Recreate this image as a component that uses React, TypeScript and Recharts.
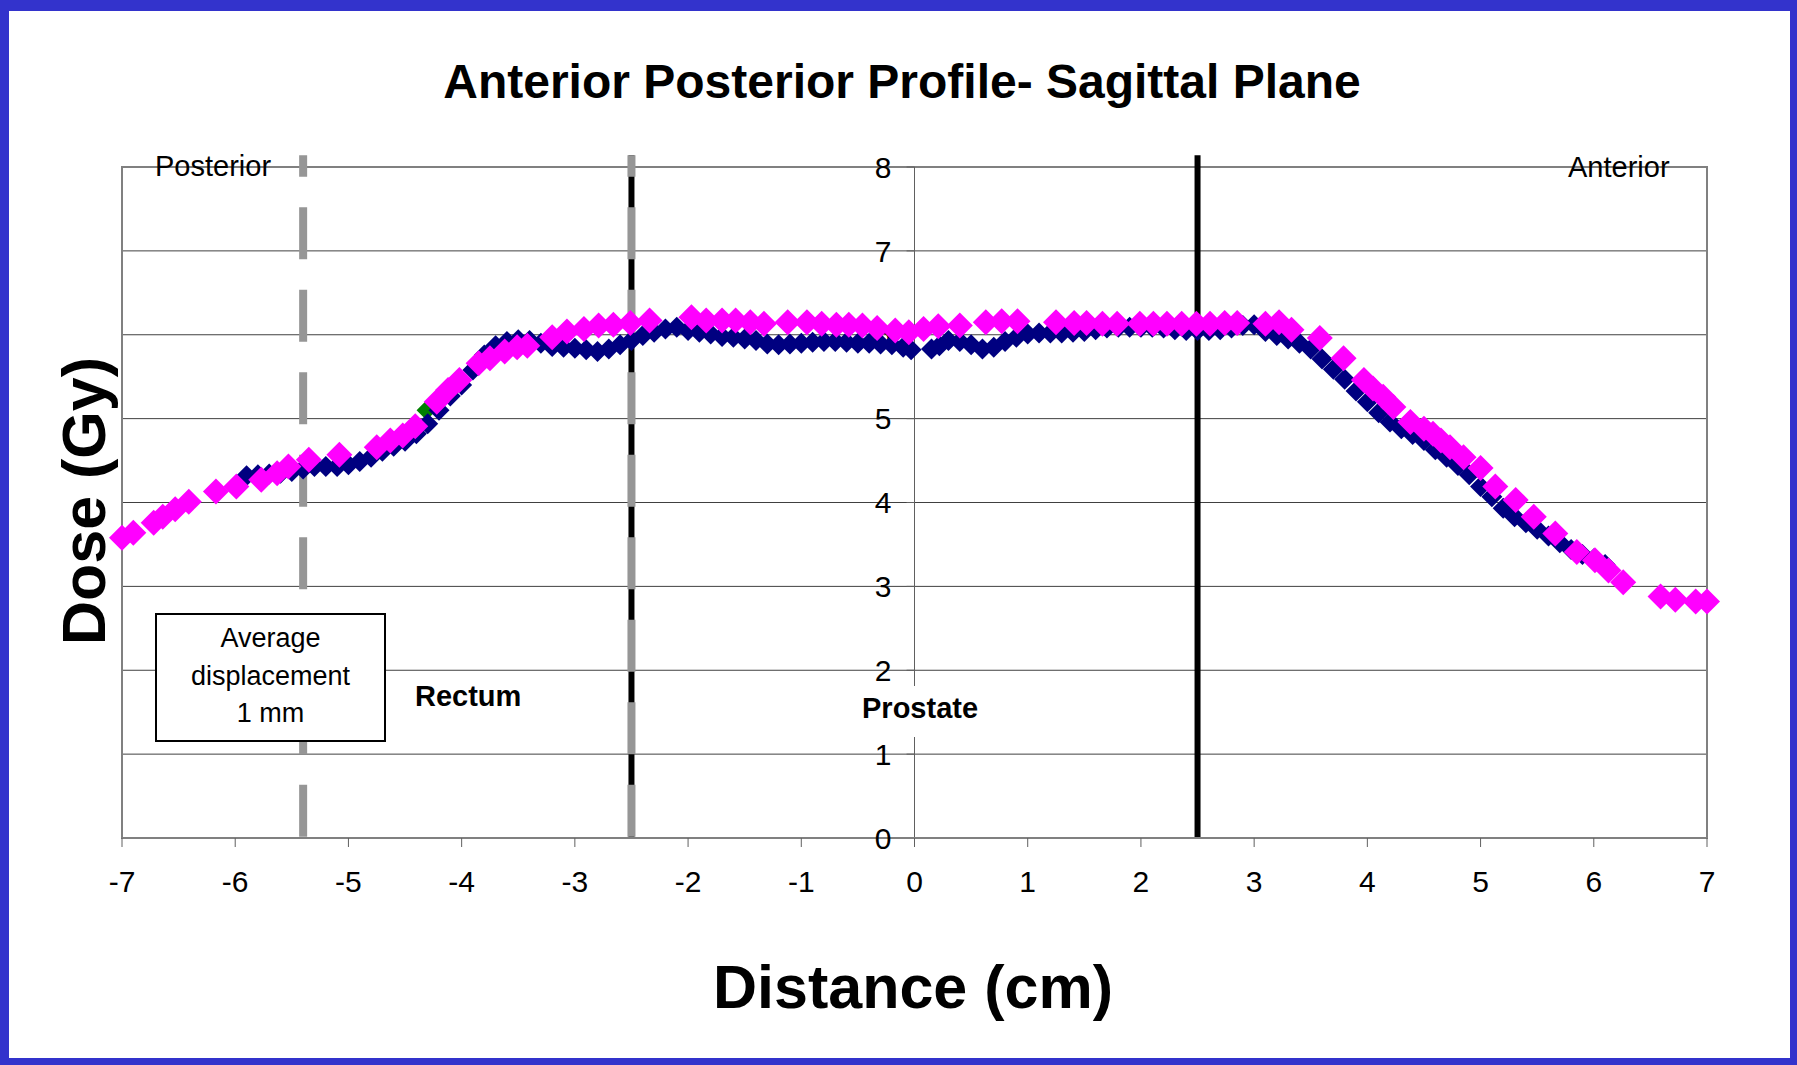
import {
  ScatterChart,
  Scatter,
  XAxis,
  YAxis,
  CartesianGrid,
  ReferenceLine,
  ReferenceDot,
  ReferenceArea,
} from "recharts";

const FONT = '"Liberation Sans", Arial, Helvetica, sans-serif';

const xTicks = [-7, -6, -5, -4, -3, -2, -1, 0, 1, 2, 3, 4, 5, 6, 7];
const yTicks = [0, 1, 2, 3, 4, 5, 6, 7, 8];

// marker lines (cm)
const avgDisplacementX = -5.4;
const rectumEdgeX = -2.5;
const prostateEdgeX = 2.5;
const lineTopY = 8.14;

// navy series: dose profile [cm, Gy]
const profileNavy: [number, number][] = [
  [-5.9, 4.32], [-5.8, 4.33], [-5.7, 4.34], [-5.6, 4.35], [-5.5, 4.37],
  [-5.4, 4.4], [-5.3, 4.43], [-5.2, 4.43], [-5.1, 4.43], [-5.0, 4.45],
  [-4.9, 4.49], [-4.8, 4.54], [-4.7, 4.61], [-4.6, 4.67], [-4.5, 4.73],
  [-4.4, 4.82], [-4.3, 4.94], [-4.2, 5.1], [-4.1, 5.27], [-4.0, 5.4],
  [-3.9, 5.58], [-3.8, 5.76], [-3.7, 5.87], [-3.6, 5.92], [-3.5, 5.94],
  [-3.4, 5.93], [-3.3, 5.9], [-3.2, 5.86], [-3.1, 5.85], [-3.0, 5.84],
  [-2.9, 5.82], [-2.8, 5.8], [-2.7, 5.83], [-2.6, 5.88], [-2.5, 5.93],
  [-2.4, 5.99], [-2.3, 6.03], [-2.2, 6.07], [-2.1, 6.09], [-2.0, 6.05],
  [-1.9, 6.03], [-1.8, 6.01], [-1.7, 5.98], [-1.6, 5.97], [-1.5, 5.95],
  [-1.4, 5.93], [-1.3, 5.89], [-1.2, 5.88], [-1.1, 5.89], [-1.0, 5.9],
  [-0.9, 5.91], [-0.8, 5.92], [-0.7, 5.92], [-0.6, 5.91], [-0.5, 5.9],
  [-0.4, 5.9], [-0.3, 5.89], [-0.2, 5.88], [-0.1, 5.85], [-0.03, 5.82],
  [0.15, 5.83], [0.22, 5.87], [0.3, 5.93], [0.4, 5.92], [0.5, 5.88],
  [0.6, 5.83], [0.7, 5.85], [0.8, 5.92], [0.9, 5.97], [1.0, 6.01],
  [1.1, 6.02], [1.2, 6.02], [1.3, 6.02], [1.4, 6.03], [1.5, 6.04],
  [1.6, 6.06], [1.7, 6.08], [1.8, 6.09], [1.9, 6.09], [2.0, 6.09],
  [2.1, 6.09], [2.2, 6.08], [2.3, 6.06], [2.4, 6.05], [2.5, 6.05],
  [2.6, 6.05], [2.7, 6.06], [2.8, 6.08], [2.9, 6.11], [3.0, 6.12],
  [3.1, 6.04], [3.2, 5.99], [3.3, 5.95], [3.4, 5.9], [3.5, 5.83],
  [3.6, 5.71], [3.7, 5.59], [3.8, 5.47], [3.9, 5.33], [4.0, 5.2],
  [4.1, 5.07], [4.2, 4.96], [4.3, 4.88], [4.4, 4.81], [4.5, 4.74],
  [4.6, 4.63], [4.7, 4.54], [4.8, 4.44], [4.9, 4.33], [5.0, 4.19],
  [5.1, 4.07], [5.2, 3.93], [5.3, 3.83], [5.4, 3.76], [5.5, 3.68],
  [5.6, 3.6], [5.7, 3.52], [5.8, 3.44], [5.9, 3.38], [6.0, 3.33],
  [6.1, 3.26],
];

// magenta series: displaced profile [cm, Gy]
const profileMagenta: [number, number][] = [
  [-7.0, 3.58], [-6.9, 3.64], [-6.72, 3.76], [-6.64, 3.83], [-6.53, 3.92],
  [-6.41, 4.01], [-6.17, 4.13], [-5.99, 4.19], [-5.77, 4.27], [-5.63, 4.35],
  [-5.53, 4.43], [-5.35, 4.51], [-5.08, 4.57], [-4.75, 4.66], [-4.63, 4.74],
  [-4.52, 4.8], [-4.41, 4.91], [-4.22, 5.2], [-4.12, 5.34], [-4.02, 5.46],
  [-3.85, 5.66], [-3.75, 5.72], [-3.62, 5.8], [-3.51, 5.85], [-3.42, 5.87],
  [-3.2, 5.97], [-3.07, 6.04], [-2.92, 6.07], [-2.79, 6.11], [-2.66, 6.12],
  [-2.51, 6.14], [-2.34, 6.17], [-1.97, 6.21], [-1.84, 6.17], [-1.7, 6.17],
  [-1.58, 6.17], [-1.45, 6.15], [-1.33, 6.13], [-1.12, 6.15], [-0.95, 6.15],
  [-0.82, 6.13], [-0.69, 6.12], [-0.58, 6.12], [-0.46, 6.11], [-0.33, 6.08],
  [-0.17, 6.05], [-0.05, 6.03], [0.08, 6.07], [0.21, 6.1], [0.4, 6.11],
  [0.63, 6.15], [0.77, 6.16], [0.91, 6.16], [1.25, 6.15], [1.41, 6.14],
  [1.52, 6.14], [1.66, 6.13], [1.79, 6.13], [1.99, 6.13], [2.11, 6.13],
  [2.23, 6.13], [2.36, 6.13], [2.49, 6.13], [2.61, 6.13], [2.74, 6.14],
  [2.85, 6.14], [3.1, 6.13], [3.22, 6.15], [3.33, 6.06], [3.58, 5.96],
  [3.79, 5.72], [3.97, 5.46], [4.05, 5.36], [4.14, 5.26], [4.23, 5.14],
  [4.38, 4.96], [4.5, 4.88], [4.58, 4.82], [4.65, 4.74], [4.73, 4.66],
  [4.85, 4.54], [5.0, 4.41], [5.13, 4.19], [5.31, 4.03], [5.47, 3.83],
  [5.66, 3.63], [5.85, 3.41], [6.01, 3.31], [6.13, 3.19], [6.26, 3.05],
  [6.59, 2.88], [6.72, 2.84], [6.9, 2.82], [7.0, 2.82],
];

// third series, only one point shows from under the others
const profileGreen: [number, number][] = [[-4.31, 5.1]];

const toRows = (pts: [number, number][]) => pts.map(([x, y]) => ({ x, y }));

const diamond = (r: number, fill: string) => (props: any) => {
  const { cx, cy } = props;
  if (cx == null || cy == null) return <g />;
  return (
    <path
      d={`M${cx},${cy - r}L${cx + r},${cy}L${cx},${cy + r}L${cx - r},${cy}Z`}
      fill={fill}
    />
  );
};

// y tick label, drawn to the left of the axis that crosses at x = 0
const yLabel = (v: number) => (props: any) => {
  const { cx, cy } = props;
  if (cx == null || cy == null) return <g />;
  return (
    <text
      x={cx - 23}
      y={cy}
      dy="0.36em"
      textAnchor="end"
      fontSize={30}
      fontFamily={FONT}
      fill="#000"
    >
      {v}
    </text>
  );
};

const text = (extra: React.CSSProperties): React.CSSProperties => ({
  position: "absolute",
  fontFamily: FONT,
  lineHeight: 1,
  whiteSpace: "nowrap",
  color: "#000",
  ...extra,
});

export default function App() {
  const dashed = { stroke: "#969696", strokeWidth: 8, strokeDasharray: "52 30.5", strokeDashoffset: 30.5 };

  return (
    <div style={{ position: "absolute", left: 0, top: 0, width: 1797, height: 1065, background: "#fff", overflow: "hidden" }}>
      <ScatterChart
        width={1797}
        height={1065}
        margin={{ top: 167, right: 90, bottom: 167, left: 122 }}
        style={{ position: "absolute", left: 0, top: 0 }}
      >
        <CartesianGrid vertical={false} stroke="#404040" strokeWidth={1} />
        <XAxis
          type="number"
          dataKey="x"
          domain={[-7, 7]}
          ticks={xTicks}
          height={60}
          tickSize={9}
          tickMargin={24}
          axisLine={{ stroke: "#808080", strokeWidth: 2 }}
          tickLine={{ stroke: "#606060" }}
          tick={{ fontSize: 30, fill: "#000", fontFamily: FONT }}
        />
        <YAxis type="number" dataKey="y" domain={[0, 8]} ticks={yTicks} hide width={0} />
        <ReferenceArea x1={-7} x2={7} y1={0} y2={8} fill="none" stroke="#808080" strokeWidth={2} />
        <ReferenceLine x={0} stroke="#606060" strokeWidth={1} />
        {yTicks.map((v) => (
          <ReferenceLine
            key={`t${v}`}
            segment={[{ x: -0.07, y: v }, { x: 0, y: v }]}
            stroke="#606060"
            strokeWidth={1}
          />
        ))}
        {yTicks.map((v) => (
          <ReferenceDot key={`l${v}`} x={0} y={v} r={1} shape={yLabel(v)} />
        ))}
        <Scatter data={toRows(profileGreen)} shape={diamond(10, "#008000")} isAnimationActive={false} />
        <Scatter data={toRows(profileNavy)} shape={diamond(10.5, "#000080")} isAnimationActive={false} />
        <Scatter data={toRows(profileMagenta)} shape={diamond(13, "#FF00FF")} isAnimationActive={false} />
        <ReferenceLine
          segment={[{ x: avgDisplacementX, y: lineTopY }, { x: avgDisplacementX, y: 0 }]}
          ifOverflow="visible"
          {...dashed}
        />
        <ReferenceLine
          segment={[{ x: rectumEdgeX, y: lineTopY }, { x: rectumEdgeX, y: 0 }]}
          ifOverflow="visible"
          stroke="#000"
          strokeWidth={6}
        />
        <ReferenceLine
          segment={[{ x: rectumEdgeX, y: lineTopY }, { x: rectumEdgeX, y: 0 }]}
          ifOverflow="visible"
          {...dashed}
        />
        <ReferenceLine
          segment={[{ x: prostateEdgeX, y: lineTopY }, { x: prostateEdgeX, y: 0 }]}
          ifOverflow="visible"
          stroke="#000"
          strokeWidth={6}
        />
      </ScatterChart>

      <div style={text({ left: 902, top: 58.4, fontSize: 48, fontWeight: "bold", transform: "translateX(-50%)" })}>
        Anterior Posterior Profile- Sagittal Plane
      </div>
      <div style={text({ left: 155, top: 151.5, fontSize: 29 })}>Posterior</div>
      <div style={text({ left: 1568, top: 152.5, fontSize: 29 })}>Anterior</div>
      <div style={text({ left: 415, top: 681.5, fontSize: 29, fontWeight: "bold" })}>Rectum</div>
      <div style={text({ left: 858, top: 686, width: 130, height: 51, background: "#fff", fontSize: 29, fontWeight: "bold", paddingLeft: 4, paddingTop: 7.5, boxSizing: "border-box" })}>
        Prostate
      </div>
      <div
        style={text({
          left: 155,
          top: 613,
          width: 231,
          height: 129,
          boxSizing: "border-box",
          border: "2px solid #000",
          background: "#fff",
          fontSize: 27,
          lineHeight: "37.5px",
          textAlign: "center",
          paddingTop: 5,
          whiteSpace: "normal",
        })}
      >
        Average
        <br />
        displacement
        <br />1 mm
      </div>
      <div style={text({ left: 84, top: 501, fontSize: 61, fontWeight: "bold", transform: "translate(-50%, -50%) rotate(-90deg)" })}>
        Dose (Gy)
      </div>
      <div style={text({ left: 913, top: 957.4, fontSize: 61, fontWeight: "bold", transform: "translateX(-50%)" })}>
        Distance (cm)
      </div>
      <div
        style={{
          position: "absolute",
          left: 0,
          top: 0,
          width: 1797,
          height: 1065,
          boxSizing: "border-box",
          borderStyle: "solid",
          borderColor: "#3333CC",
          borderWidth: "11px 7px 7px 9px",
          pointerEvents: "none",
        }}
      />
    </div>
  );
}
